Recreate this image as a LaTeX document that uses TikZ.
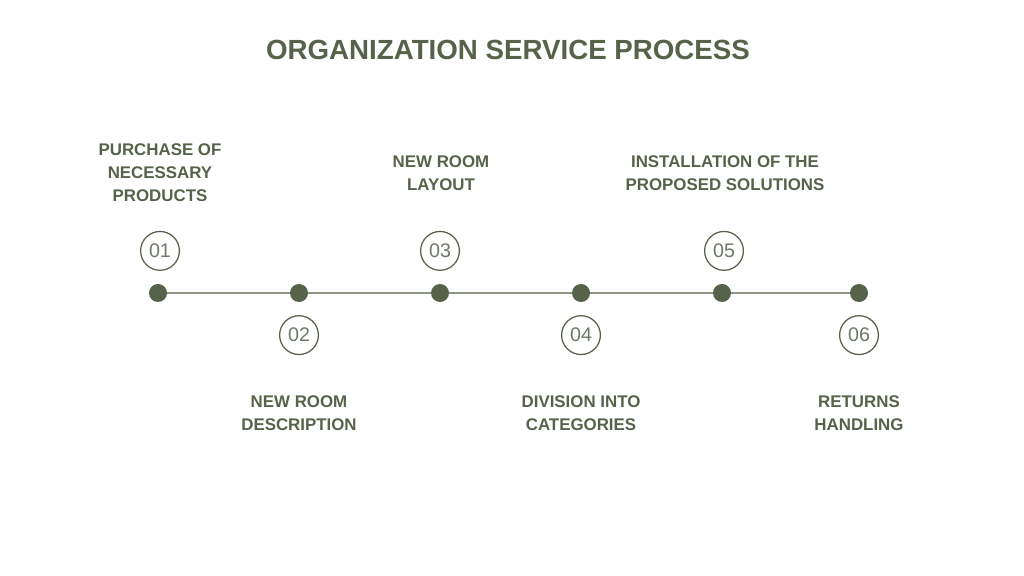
\documentclass[tikz,border=0pt]{standalone}
\usepackage{fontspec}
\setmainfont{Liberation Sans}
\usetikzlibrary{positioning}
\definecolor{moss}{HTML}{56634A}
\definecolor{sage}{HTML}{8C9683}
\definecolor{numgray}{HTML}{6E7866}
\tikzset{heading/.style={font=\bfseries\fontsize{19.7}{23}\selectfont, text=moss},
         steplabel/.style={font=\bfseries\fontsize{12}{16.3}\selectfont, text=moss, align=center, inner sep=0pt},
         stepdot/.style={circle, fill=moss, minimum size=0.45cm, inner sep=0pt},
         stepnum/.style={circle, draw=moss, line width=0.9pt, minimum size=0.97cm, inner sep=0pt, text=numgray, font=\fontsize{14}{16}\selectfont},
         timeline/.style={draw=sage, line width=1.1pt}}
\begin{document}
\begin{tikzpicture}[x=0.025cm, y=-0.025cm, node distance=0.32cm]
        \useasboundingbox (0,0) rectangle (1024,576);
        \node (title)[heading] at (508,50){ORGANIZATION SERVICE PROCESS};
        \node (dot1)[stepdot] at (158,293){};
        \node (dot2)[stepdot] at (299,293){};
        \node (dot3)[stepdot] at (440,293){};
        \node (dot4)[stepdot] at (581,293){};
        \node (dot5)[stepdot] at (722,293){};
        \node (dot6)[stepdot] at (859,293){};
        \draw [timeline] (dot1) -- (dot2);
        \draw [timeline] (dot2) -- (dot3);
        \draw [timeline] (dot3) -- (dot4);
        \draw [timeline] (dot4) -- (dot5);
        \draw [timeline] (dot5) -- (dot6);
        \node (num1)[stepnum, above=of dot1, xshift=0.05cm]{01};
        \node (num2)[stepnum, below=of dot2]{02};
        \node (num3)[stepnum, above=of dot3]{03};
        \node (num4)[stepnum, below=of dot4]{04};
        \node (num5)[stepnum, above=of dot5, xshift=0.05cm]{05};
        \node (num6)[stepnum, below=of dot6]{06};
        \node (lab1)[steplabel] at (160,173){PURCHASE OF\\NECESSARY\\PRODUCTS};
        \node (lab2)[steplabel] at (299,413){NEW ROOM\\DESCRIPTION};
        \node (lab3)[steplabel] at (441,173){NEW ROOM\\LAYOUT};
        \node (lab4)[steplabel] at (581,413){DIVISION INTO\\CATEGORIES};
        \node (lab5)[steplabel] at (725,173){INSTALLATION OF THE\\PROPOSED SOLUTIONS};
        \node (lab6)[steplabel] at (859,413){RETURNS\\HANDLING};
    \end{tikzpicture}
\end{document}
